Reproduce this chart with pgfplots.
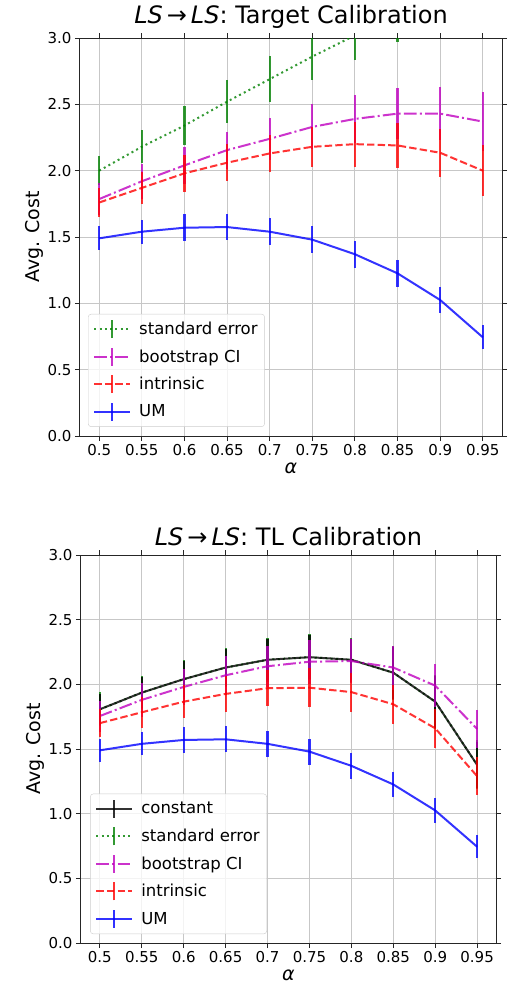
\documentclass[border=0pt]{standalone}
\usepackage{fontspec}
\setmainfont{DejaVu Sans}
\usepackage{pgfplots}
\pgfplotsset{compat=1.18}

\definecolor{mplgreen}{rgb}{0,0.5,0}
\definecolor{mplmag}{rgb}{0.75,0,0.75}
\definecolor{mplred}{rgb}{1,0,0}
\definecolor{mplblue}{rgb}{0,0,1}
\definecolor{gridgray}{rgb}{0.78,0.78,0.78}
\definecolor{spine}{rgb}{0.15,0.15,0.15}

\pgfplotsset{
  calib/.style={
    scale only axis,
    xmin=0.4775, xmax=0.9725, ymin=0, ymax=3,
    xtick={0.5,0.55,0.6,0.65,0.7,0.75,0.8,0.85,0.9,0.95},
    xticklabels={0.5,0.55,0.6,0.65,0.7,0.75,0.8,0.85,0.9,0.95},
    ytick={0,0.5,1,1.5,2,2.5,3},
    yticklabels={0.0,0.5,1.0,1.5,2.0,2.5,3.0},
    grid=major, grid style={gridgray, line width=1pt},
    tick align=outside, major tick length=5pt,
    tick style={spine, line width=1pt},
    axis line style={spine, line width=1pt},
    ticklabel style={font=\fontsize{15}{15}\selectfont},
    label style={font=\fontsize{19}{19}\selectfont},
    title style={font=\fontsize{24}{24}\selectfont},
    xlabel={\itshape α}, ylabel={Avg. Cost},
    ylabel style={yshift=-3pt},
    legend cell align=left,
    legend style={font=\fontsize{16.5}{18}\selectfont, fill=white, fill opacity=0.8,
      text opacity=1, draw=gray!40, rounded corners=3pt, row sep=7.5pt,
      column sep=6pt, inner sep=5pt, anchor=south west},
    legend image code/.code={
      \draw[##1] (0pt,0pt) -- (36pt,0pt);
      \draw[##1,solid] (18pt,-9pt) -- (18pt,9pt);},
    error bars/y dir=both, error bars/y explicit, error bars/error mark=none,
    error bars/error bar style={solid, line width=2.2pt},
  },
  ebar/.style={line width=2pt, opacity=0.8, mark=none},
  se/.style={ebar, mplgreen, dash pattern=on 2pt off 3.3pt},
  bs/.style={ebar, mplmag, dash pattern=on 12.8pt off 3.2pt on 2pt off 3.2pt},
  intr/.style={ebar, mplred, dash pattern=on 7.4pt off 3.2pt},
  um/.style={ebar, mplblue},
  cst/.style={ebar, black},
}

\begin{document}
\begin{tikzpicture}
\path[use as bounding box] (0,0) rectangle (508pt,-994pt);

\begin{axis}[calib, width=422pt, height=398pt, at={(80pt,-436pt)}, anchor=south west,
  title={{\itshape LS}\,→\,{\itshape LS}: Target Calibration},
  legend style={at={(0.019,0.023)}}]
\addplot[se] coordinates {
 (0.5,2.00) +- (0,0.11) (0.55,2.18) +- (0,0.125) (0.6,2.34) +- (0,0.15)
 (0.65,2.52) +- (0,0.16) (0.7,2.69) +- (0,0.175) (0.75,2.86) +- (0,0.18)
 (0.8,3.02) +- (0,0.185) (0.85,3.17) +- (0,0.2) (0.9,3.32) +- (0,0.21)
 (0.95,3.47) +- (0,0.22)};
\addlegendentry{standard error}
\addplot[bs] coordinates {
 (0.5,1.786) +- (0,0.12) (0.55,1.92) +- (0,0.13) (0.6,2.04) +- (0,0.14)
 (0.65,2.155) +- (0,0.14) (0.7,2.24) +- (0,0.16) (0.75,2.33) +- (0,0.17)
 (0.8,2.39) +- (0,0.18) (0.85,2.43) +- (0,0.19) (0.9,2.43) +- (0,0.2)
 (0.95,2.37) +- (0,0.22)};
\addlegendentry{bootstrap CI}
\addplot[intr] coordinates {
 (0.5,1.76) +- (0,0.11) (0.55,1.87) +- (0,0.12) (0.6,1.98) +- (0,0.14)
 (0.65,2.06) +- (0,0.14) (0.7,2.13) +- (0,0.14) (0.75,2.18) +- (0,0.15)
 (0.8,2.20) +- (0,0.17) (0.85,2.19) +- (0,0.17) (0.9,2.135) +- (0,0.18)
 (0.95,2.00) +- (0,0.19)};
\addlegendentry{intrinsic}
\addplot[um] coordinates {
 (0.5,1.49) +- (0,0.09) (0.55,1.54) +- (0,0.09) (0.6,1.57) +- (0,0.1)
 (0.65,1.575) +- (0,0.1) (0.7,1.54) +- (0,0.1) (0.75,1.48) +- (0,0.1)
 (0.8,1.37) +- (0,0.1) (0.85,1.226) +- (0,0.1) (0.9,1.025) +- (0,0.1)
 (0.95,0.744) +- (0,0.09)};
\addlegendentry{UM}
\end{axis}

\begin{axis}[calib, width=415pt, height=388pt, at={(81pt,-943pt)}, anchor=south west,
  title={{\itshape LS}\,→\,{\itshape LS}: TL Calibration},
  legend style={at={(0.022,0.023)}}]
\addplot[se, forget plot] coordinates {
 (0.5,1.807) +- (0,0.13) (0.55,1.936) +- (0,0.13) (0.6,2.04) +- (0,0.15)
 (0.65,2.13) +- (0,0.15) (0.7,2.19) +- (0,0.17) (0.75,2.21) +- (0,0.18)
 (0.8,2.19) +- (0,0.17) (0.85,2.09) +- (0,0.21) (0.9,1.866) +- (0,0.21)
 (0.95,1.377) +- (0,0.19)};
\addplot[cst] coordinates {
 (0.5,1.807) +- (0,0.12) (0.55,1.936) +- (0,0.12) (0.6,2.04) +- (0,0.14)
 (0.65,2.13) +- (0,0.14) (0.7,2.19) +- (0,0.16) (0.75,2.21) +- (0,0.17)
 (0.8,2.19) +- (0,0.16) (0.85,2.09) +- (0,0.2) (0.9,1.866) +- (0,0.2)
 (0.95,1.377) +- (0,0.18)};
\addlegendentry{constant}
\addlegendimage{se}
\addlegendentry{standard error}
\addplot[bs] coordinates {
 (0.5,1.755) +- (0,0.12) (0.55,1.88) +- (0,0.13) (0.6,1.98) +- (0,0.14)
 (0.65,2.07) +- (0,0.15) (0.7,2.14) +- (0,0.16) (0.75,2.175) +- (0,0.17)
 (0.8,2.18) +- (0,0.17) (0.85,2.13) +- (0,0.17) (0.9,1.99) +- (0,0.165)
 (0.95,1.655) +- (0,0.145)};
\addlegendentry{bootstrap CI}
\addplot[intr] coordinates {
 (0.5,1.70) +- (0,0.11) (0.55,1.784) +- (0,0.12) (0.6,1.866) +- (0,0.13)
 (0.65,1.926) +- (0,0.14) (0.7,1.97) +- (0,0.14) (0.75,1.974) +- (0,0.15)
 (0.8,1.94) +- (0,0.15) (0.85,1.846) +- (0,0.15) (0.9,1.66) +- (0,0.15)
 (0.95,1.29) +- (0,0.145)};
\addlegendentry{intrinsic}
\addplot[um] coordinates {
 (0.5,1.49) +- (0,0.09) (0.55,1.54) +- (0,0.09) (0.6,1.57) +- (0,0.1)
 (0.65,1.575) +- (0,0.1) (0.7,1.54) +- (0,0.1) (0.75,1.48) +- (0,0.1)
 (0.8,1.37) +- (0,0.1) (0.85,1.226) +- (0,0.1) (0.9,1.025) +- (0,0.1)
 (0.95,0.744) +- (0,0.09)};
\addlegendentry{UM}
\end{axis}
\end{tikzpicture}
\end{document}
